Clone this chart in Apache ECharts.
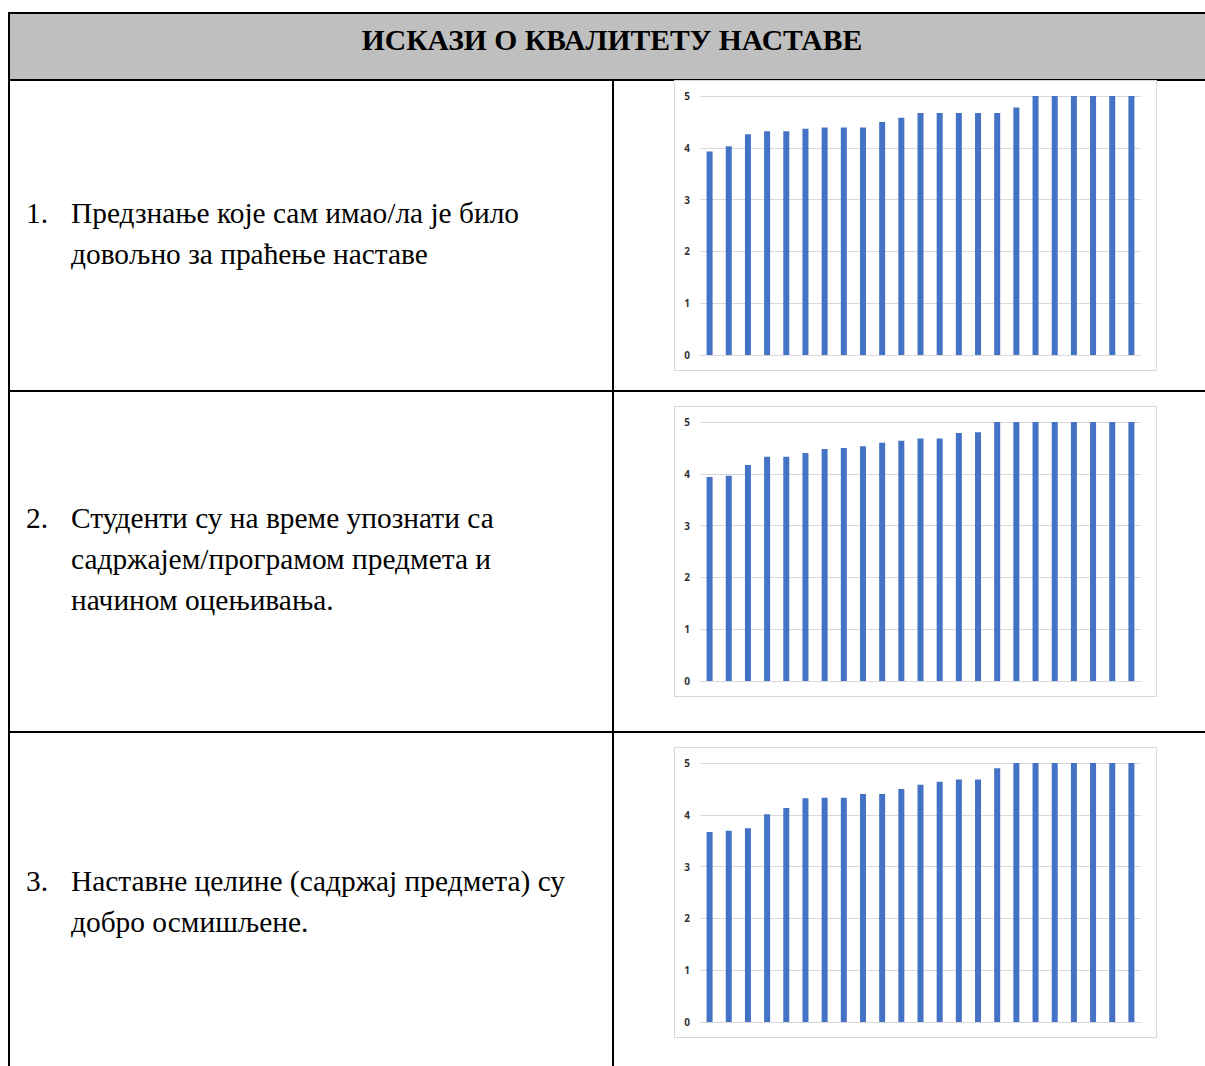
<!DOCTYPE html>
<html>
<head>
<meta charset="utf-8">
<script src="https://cdn.jsdelivr.net/npm/echarts@6/dist/echarts.min.js"></script>
<style>
  html, body { margin: 0; padding: 0; background: #fff; width: 1205px; height: 1066px; overflow: hidden; position: relative; }
  .line { position: absolute; background: #000; }
  .hdr { position: absolute; left: 10px; top: 14px; width: 1210px; height: 65px; background: #bfbfbf; }
  .hdrtext { position: absolute; left: 9px; width: 1206px; top: 14px; height: 65px; line-height: 52px; text-align: center;
             font-family: "Liberation Serif", "Times New Roman", serif; font-weight: bold; font-size: 29.6px; color: #000; }
  .num { position: absolute; left: 26px; font-family: "Liberation Serif", serif; font-size: 29.4px; line-height: 41px; color: #000; }
  .txt { position: absolute; left: 71px; font-family: "Liberation Serif", serif; font-size: 29.4px; line-height: 41px; color: #000; white-space: nowrap; }
  .box { position: absolute; left: 674px; width: 481px; height: 289px; border: 1px solid #d9d9d9; background: #fff; }
  .chart { width: 481px; height: 289px; }
</style>
</head>
<body>
<div class="hdr"></div>
<div class="hdrtext">ИСКАЗИ О КВАЛИТЕТУ НАСТАВЕ</div>
<div class="line" style="left:8px; top:12px; width:1210px; height:2px;"></div>
<div class="line" style="left:8px; top:79px; width:1210px; height:2px;"></div>
<div class="line" style="left:8px; top:12px; width:2px; height:1060px;"></div>
<div class="line" style="left:612px; top:79px; width:2px; height:990px;"></div>
<div class="line" style="left:8px; top:390px; width:1210px; height:2px;"></div>
<div class="line" style="left:8px; top:731px; width:1210px; height:2px;"></div>

<div class="num" style="top:193px;">1.</div>
<div class="txt" style="top:193px;">Предзнање које сам имао/ла је било<br>довољно за праћење наставе</div>

<div class="num" style="top:498px;">2.</div>
<div class="txt" style="top:498px;">Студенти су на време упознати са<br>садржајем/програмом предмета и<br>начином оцењивања.</div>

<div class="num" style="top:861px;">3.</div>
<div class="txt" style="top:861px;">Наставне целине (садржај предмета) су<br>добро осмишљене.</div>

<div class="box" style="top:80px;"><div id="c1" class="chart"></div></div>
<div class="box" style="top:406px;"><div id="c2" class="chart"></div></div>
<div class="box" style="top:747px;"><div id="c3" class="chart"></div></div>

<script>
// Data
const categories = ['1','2','3','4','5','6','7','8','9','10','11','12','13','14','15','16','17','18','19','20','21','22','23'];
const valuesQ1 = [3.93, 4.03, 4.26, 4.32, 4.32, 4.37, 4.39, 4.39, 4.39, 4.50, 4.58, 4.67, 4.67, 4.67, 4.67, 4.67, 4.78, 5, 5, 5, 5, 5, 5];
const valuesQ2 = [3.94, 3.96, 4.17, 4.33, 4.33, 4.40, 4.48, 4.50, 4.53, 4.60, 4.64, 4.68, 4.68, 4.79, 4.80, 5, 5, 5, 5, 5, 5, 5, 5];
const valuesQ3 = [3.67, 3.69, 3.74, 4.01, 4.13, 4.32, 4.33, 4.33, 4.40, 4.40, 4.50, 4.58, 4.64, 4.68, 4.68, 4.90, 5, 5, 5, 5, 5, 5, 5];
const yTicks = { min: 0, max: 5, interval: 1 };

function makeOption(values) {
  return {
    animation: false,
    grid: { left: 25, right: 15, top: 15, bottom: 15 },
    xAxis: {
      type: 'category',
      data: categories,
      axisLine: { show: true, lineStyle: { color: '#d9d9d9', width: 1 } },
      axisTick: { show: false },
      axisLabel: { show: false },
      splitLine: { show: false }
    },
    yAxis: {
      type: 'value',
      min: yTicks.min, max: yTicks.max, interval: yTicks.interval,
      axisLine: { show: false },
      axisTick: { show: false },
      axisLabel: { color: '#333333', fontSize: 10, fontWeight: 'bold', fontFamily: 'Open Sans, Liberation Sans, sans-serif', margin: 10 },
      splitLine: { lineStyle: { color: '#d9d9d9', width: 1 } }
    },
    series: [{
      type: 'bar',
      data: values,
      barWidth: 6,
      itemStyle: { color: '#4472c4' }
    }]
  };
}

[['c1', valuesQ1], ['c2', valuesQ2], ['c3', valuesQ3]].forEach(([id, vals]) => {
  const chart = echarts.init(document.getElementById(id), null, { renderer: 'svg' });
  chart.setOption(makeOption(vals));
});
</script>
</body>
</html>
